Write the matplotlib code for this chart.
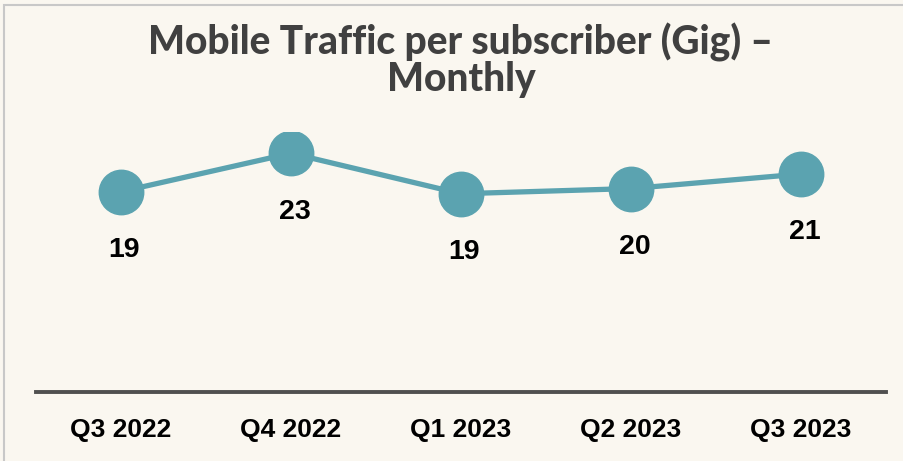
import matplotlib.pyplot as plt
from matplotlib.patches import Rectangle

# datos del grafico
quarters = ['Q3 2022', 'Q4 2022', 'Q1 2023', 'Q2 2023', 'Q3 2023']
traffic = [19.3, 23.0, 19.1, 19.6, 21.0]
labels = ['19', '23', '19', '20', '21']

bg = '#FAF7F0'
teal = '#5BA3B0'

fig = plt.figure(figsize=(9.04, 4.61), dpi=100, facecolor=bg)

# borde gris del cuadro
fig.patches.append(Rectangle((4 / 904, -0.1), 1.2, (461 - 5) / 461 + 0.1,
                             transform=fig.transFigure, fill=False,
                             edgecolor='#C8C8C8', linewidth=1.5))

ax = fig.add_axes([36 / 904, 69 / 461, 850 / 904, 259.5 / 461])
ax.set_facecolor(bg)
x = list(range(len(quarters)))
ax.plot(x, traffic, color=teal, linewidth=3.8, marker='o', markersize=32,
        solid_capstyle='round', zorder=3)

for xi, yi, lab in zip(x, traffic, labels):
    ax.annotate(lab, (xi, yi), xytext=(2.5, -47), textcoords='offset points',
                ha='center', va='baseline', fontsize=20.5, fontweight='bold',
                family='Liberation Sans', color='black')

ax.set_xlim(-0.5, 4.5)
ax.set_ylim(0, 25)
ax.set_xticks(x)
ax.set_xticklabels(quarters, fontsize=19, fontweight='bold',
                   family='Liberation Sans')
ax.set_yticks([])
ax.tick_params(axis='x', length=0, pad=19)
for side in ['top', 'left', 'right']:
    ax.spines[side].set_visible(False)
ax.spines['bottom'].set_color('#505050')
ax.spines['bottom'].set_linewidth(2.8)

# titulo en dos lineas
fig.text(461 / 904, 1 - 54 / 461, 'Mobile Traffic per subscriber (Gig) \u2013',
         ha='center', va='baseline', fontsize=28, fontweight='black',
         family='Lato', color='#404040')
fig.text(461 / 904, 1 - 91 / 461, 'Monthly',
         ha='center', va='baseline', fontsize=28, fontweight='black',
         family='Lato', color='#404040')

fig.savefig('out.png', dpi=100, facecolor=bg)
